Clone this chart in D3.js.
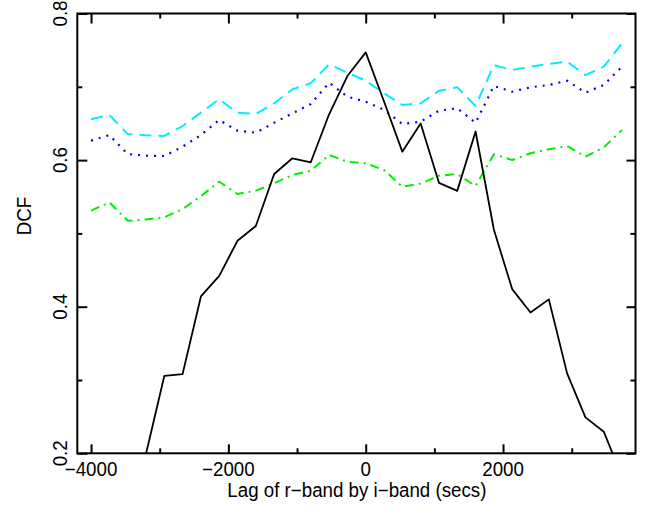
<!DOCTYPE html>
<html><head><meta charset="utf-8">
<script src="https://d3js.org/d3.v7.min.js"></script>
<style>body{margin:0;background:#fff}svg{display:block;font-family:"Liberation Sans",Arial,sans-serif}</style>
</head><body><svg id="c" width="646" height="509"></svg>
<script>
const lags = [-4000,-3733,-3467,-3200,-2933,-2667,-2400,-2133,-1867,-1600,-1333,-1067,-800,-533,-267,0,267,533,800,1067,1333,1600,1867,2133,2400,2667,2933,3200,3467,3733];
const dcf = [null,null,null,0.199,0.3055,0.308,0.414,0.442,0.490,0.510,0.581,0.6025,0.597,0.6625,0.7147,0.747,0.68,0.6115,0.650,0.569,0.558,0.639,0.505,0.424,0.392,0.410,0.309,0.249,0.2295,0.168];
const sig99 = [0.6557,0.6615,0.6356,0.634,0.633,0.6465,0.6647,0.683,0.6647,0.6629,0.6775,0.6966,0.7048,0.7307,0.7192,0.7083,0.691,0.6752,0.6775,0.6947,0.6993,0.6738,0.7297,0.7229,0.7275,0.7311,0.7343,0.716,0.7275,0.7593];
const sig95 = [0.6265,0.6342,0.6083,0.606,0.6056,0.6183,0.6342,0.6547,0.6401,0.6374,0.651,0.6638,0.6765,0.7056,0.6865,0.6797,0.6684,0.6493,0.6524,0.6674,0.6707,0.651,0.7011,0.6933,0.6993,0.7025,0.7083,0.692,0.7025,0.7275];
const sig90 = [0.531,0.5424,0.5173,0.519,0.522,0.533,0.551,0.5705,0.5538,0.5583,0.5683,0.5797,0.5855,0.607,0.5978,0.5956,0.5865,0.5637,0.568,0.5787,0.581,0.5647,0.608,0.6001,0.6093,0.6147,0.6192,0.6046,0.6174,0.641];
const xMajor = [-4000,-2000,0,2000];
const xMinor = [-3000,-1000,1000,3000];
const yMajor = [0.2,0.4,0.6,0.8];
const yMinor = [0.3,0.5,0.7];

const L=77.3,R=635.5,T=13.5,B=453.3;
const svg=d3.select("#c");
const x=d3.scaleLinear().domain([-4200,3929]).range([L,R]);
const y=d3.scaleLinear().domain([0.2,0.8]).range([B,T]);

svg.append("defs").append("clipPath").attr("id","clip").append("rect")
  .attr("x",L).attr("y",T).attr("width",R-L).attr("height",B-T);

const series=[
  {v:sig99,color:"#00eeff",dash:"12,7",w:2},
  {v:sig95,color:"#0000ff",dash:"2,6",w:2.2},
  {v:sig90,color:"#00ee00",dash:"9,5,2,5",w:2},
  {v:dcf,color:"#000",dash:null,w:1.8}
];
const g=svg.append("g").attr("clip-path","url(#clip)");
series.forEach(s=>{
  const line=d3.line().defined((d,i)=>s.v[i]!=null).x((d,i)=>x(lags[i])).y((d,i)=>y(s.v[i]));
  g.append("path").datum(lags).attr("d",line).attr("fill","none")
   .attr("stroke",s.color).attr("stroke-width",s.w)
   .attr("stroke-dasharray",s.dash).attr("stroke-linejoin","round");
});

svg.append("rect").attr("x",L).attr("y",T).attr("width",R-L).attr("height",B-T)
  .attr("fill","none").attr("stroke","#000").attr("stroke-width",2);

function ax(gen,tr,vals,len){
  const a=svg.append("g").attr("transform",tr)
   .call(gen.tickValues(vals).tickSizeInner(-len).tickSizeOuter(0).tickFormat(""));
  a.select(".domain").remove();
  a.selectAll(".tick line").attr("stroke","#000").attr("stroke-width",2);
  return a;
}
ax(d3.axisBottom(x),`translate(0,${B})`,xMajor,9);
ax(d3.axisBottom(x),`translate(0,${B})`,xMinor,5);
ax(d3.axisTop(x),`translate(0,${T})`,xMajor,10);
ax(d3.axisTop(x),`translate(0,${T})`,xMinor,5);
ax(d3.axisLeft(y),`translate(${L},0)`,yMajor,10);
ax(d3.axisLeft(y),`translate(${L},0)`,yMinor,5);
ax(d3.axisRight(y),`translate(${R},0)`,yMajor,9);
ax(d3.axisRight(y),`translate(${R},0)`,yMinor,5);

const fs="19.5px", sx=0.96;
svg.append("g").selectAll("text").data(xMajor).join("text")
  .attr("transform",d=>`translate(${x(d)},475.5) scale(${sx},1)`).attr("text-anchor","middle")
  .attr("font-size",fs).text(d=>d<0?"\u2212"+Math.abs(d):d);
svg.append("g").selectAll("text").data(yMajor).join("text")
  .attr("transform",d=>`translate(66.5,${y(d)}) rotate(-90) scale(${sx},1)`).attr("text-anchor","middle")
  .attr("font-size",fs).text(d=>d.toFixed(1));
svg.append("text").attr("transform",`translate(${(L+R)/2+0.5},497) scale(${sx},1)`).attr("text-anchor","middle")
  .attr("font-size",fs).text("Lag of r\u2212band by i\u2212band (secs)");
svg.append("text").attr("transform","translate(30.5,216) rotate(-90) scale(0.96,1)").attr("text-anchor","middle")
  .attr("font-size",fs).text("DCF");
</script></body></html>
